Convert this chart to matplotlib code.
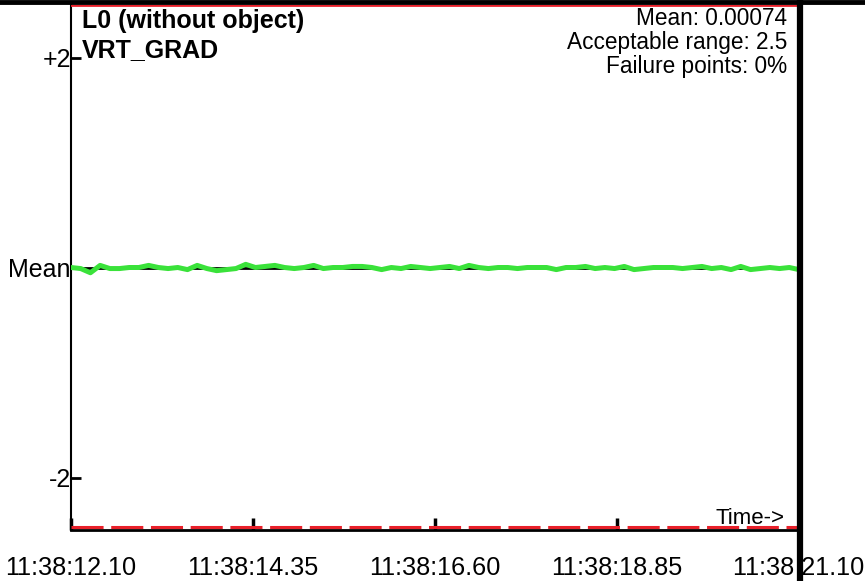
import matplotlib.pyplot as plt
from matplotlib.lines import Line2D
import numpy as np

plt.rcParams['font.family'] = ['Liberation Sans', 'DejaVu Sans']

# time axis (seconds after 11:38:00)
t_start = 12.10
t_end = 21.10
tick_pos = [12.10, 14.35, 16.60, 18.85, 21.10]
tick_labels = ['11:38:12.10', '11:38:14.35', '11:38:16.60', '11:38:18.85', '11:38 21.10']

# measured VRT_GRAD deviation from mean
signal = [0.00, -0.01, -0.05, 0.02, -0.01, -0.01, 0.00, 0.00, 0.02, 0.00,
          -0.01, 0.00, -0.02, 0.02, -0.01, -0.03, -0.02, -0.01, 0.03, 0.00,
          0.01, 0.02, 0.00, -0.01, 0.00, 0.02, -0.01, 0.00, 0.00, 0.01,
          0.01, 0.00, -0.02, 0.00, -0.01, 0.01, 0.00, -0.01, 0.00, 0.01,
          -0.01, 0.02, 0.00, -0.01, 0.00, 0.00, -0.01, 0.00, 0.00, 0.00,
          -0.02, 0.00, 0.00, 0.01, -0.01, 0.00, -0.01, 0.01, -0.02, -0.01,
          0.00, 0.00, 0.00, -0.01, 0.00, 0.01, -0.01, 0.00, -0.02, 0.01,
          -0.02, -0.01, 0.00, -0.01, 0.00, -0.02]
time = np.linspace(t_start, t_end, len(signal))

mean_value = 0.00074
acc_range = 2.5
failure = 0

fig = plt.figure(figsize=(8.65, 5.81), dpi=100)
ax = fig.add_axes([71 / 865, 1 - 530 / 581, (799 - 71) / 865, (530 - 5) / 581])

ax.axhline(0, color='black', lw=2, zorder=2)
ax.plot(time, signal, color='#3ae23a', lw=3.6, zorder=3,
        solid_capstyle='round', solid_joinstyle='round')
ax.axhline(acc_range, color='#e8202a', lw=2, zorder=4)
ax.axhline(-acc_range + 0.03, color='#e8202a', lw=2.2, dashes=(10.5, 2.5), zorder=4)

ax.set_xlim(t_start, t_end)
ax.set_ylim(-acc_range, acc_range)

ax.set_yticks([2, 0, -2])
ax.set_yticklabels(['+2', 'Mean', '-2'], fontsize=18)
ax.set_xticks(tick_pos)
ax.set_xticklabels(tick_labels, fontsize=18.2)
ax.tick_params(axis='y', direction='in', length=7, width=2, pad=0)
ax.tick_params(axis='x', direction='in', length=9, width=2.5, pad=19)

for s in ['top', 'right']:
    ax.spines[s].set_visible(False)
ax.spines['left'].set_linewidth(1.5)
ax.spines['bottom'].set_linewidth(2)

ax.text(82 / 865, 1 - 28 / 581, 'L0 (without object)', transform=fig.transFigure,
        fontsize=18, fontweight='bold', va='baseline', ha='left')
ax.text(82 / 865, 1 - 57 / 581, 'VRT_GRAD', transform=fig.transFigure,
        fontsize=18, fontweight='bold', va='baseline', ha='left')

info = [f'Mean: {mean_value:.5f}', f'Acceptable range: {acc_range}', f'Failure points: {failure}%']
for i, line in enumerate(info):
    ax.text(787 / 865, 1 - (25 + 24 * i) / 581, line, transform=fig.transFigure,
            fontsize=16.3, va='baseline', ha='right')

ax.text(785 / 865, 1 - 524 / 581, 'Time->', transform=fig.transFigure,
        fontsize=16, va='baseline', ha='right')

# black frame pieces: top band and thick right bar
fig.add_artist(Line2D([0, 1], [1 - 2 / 581, 1 - 2 / 581], color='black', lw=3.5, zorder=10))
fig.add_artist(Line2D([800 / 865, 800 / 865], [0, 1], color='black', lw=4.5, zorder=10))

fig.savefig('out.png', dpi=100)
